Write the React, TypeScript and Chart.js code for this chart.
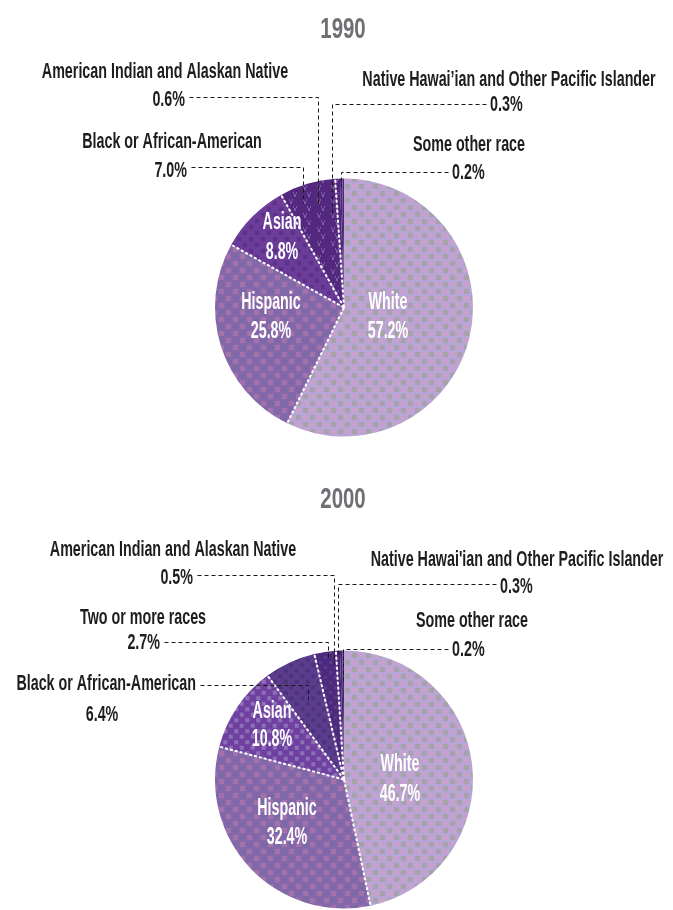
import React, { useEffect, useRef } from "react";
import { Chart, registerables } from "chart.js";

Chart.register(...registerables);

// ---------- DATA ----------
const titles = ["1990", "2000"];

const categories1990 = [
  "White",
  "Hispanic",
  "Asian",
  "Black or African-American",
  "American Indian and Alaskan Native",
  "Native Hawai\u2019ian and Other Pacific Islander",
  "Some other race",
];
const values1990 = [57.2, 25.8, 8.8, 7.0, 0.6, 0.3, 0.2];

const categories2000 = [
  "White",
  "Hispanic",
  "Asian",
  "Black or African-American",
  "Two or more races",
  "American Indian and Alaskan Native",
  "Native Hawai'ian and Other Pacific Islander",
  "Some other race",
];
const values2000 = [46.7, 32.4, 10.8, 6.4, 2.7, 0.5, 0.3, 0.2];

// ---------- LAYOUT (relative to pie centre) ----------
type Align = "left" | "right" | "center";
type OuterLabel = {
  i: number;
  name: [number, number, Align];
  value: [number, number, Align];
  path: [number, number][];
};
type InnerLabel = { i: number; x: number; y1: number; y2: number };

const outer1990: OuterLabel[] = [
  { i: 4, name: [-179, -235.5, "center"], value: [-159, -207.5, "right"], path: [[-155, -210.5], [-26, -210.5], [-26, -104.5]] },
  { i: 3, name: [-172, -165.5, "center"], value: [-157, -136.5, "right"], path: [[-153, -140.5], [-41, -140.5], [-41, -104.5]] },
  { i: 5, name: [165, -227.5, "center"], value: [146, -202.5, "left"], path: [[142, -203.5], [-12, -203.5], [-12, -92.5]] },
  { i: 6, name: [125, -162.5, "center"], value: [108, -134.5, "left"], path: [[104, -135.5], [-3, -135.5], [-3, -120.5]] },
];
const inner1990: InnerLabel[] = [
  { i: 0, x: 44, y1: -4.5, y2: 24.5 },
  { i: 1, x: -73, y1: -4.5, y2: 24.5 },
  { i: 2, x: -62, y1: -84.5, y2: -54.5 },
];

const outer2000: OuterLabel[] = [
  { i: 5, name: [-171, -229.5, "center"], value: [-151, -201.5, "right"], path: [[-147, -204.5], [-10, -204.5], [-10, -114.5]] },
  { i: 4, name: [-201, -161.5, "center"], value: [-184, -136.5, "right"], path: [[-180, -137.5], [-16, -137.5], [-16, -121.5]] },
  { i: 3, name: [-148, -95.5, "right"], value: [-242, -64.5, "center"], path: [[-144, -94.5], [-36, -94.5], [-36, -77.5]] },
  { i: 6, name: [173, -219.5, "center"], value: [156, -192.5, "left"], path: [[152, -195.5], [-6, -195.5], [-6, -124.5]] },
  { i: 7, name: [128, -158.5, "center"], value: [108, -129.5, "left"], path: [[104, -130.5], [-1, -130.5], [-1, -97.5]] },
];
const inner2000: InnerLabel[] = [
  { i: 0, x: 56, y1: -14.5, y2: 15.5 },
  { i: 1, x: -57, y1: 29.5, y2: 58.5 },
  { i: 2, x: -72, y1: -67.5, y2: -39.5 },
];

// ---------- STYLE ----------
const FONT_FAMILY = '"Liberation Sans", Arial, sans-serif';
const LABEL_FONT = `bold 22px ${FONT_FAMILY}`;
const INNER_FONT = `bold 23px ${FONT_FAMILY}`;
const TITLE_FONT = `bold 30px ${FONT_FAMILY}`;
const SCALE_X = 0.65;
const INNER_SCALE_X = 0.62;
const TITLE_SCALE_X = 0.68;
const TEXT_COLOR = "#1f1c1d";
const TITLE_COLOR = "#6f6f74";

function tile(n: number, draw: (c: CanvasRenderingContext2D) => void): CanvasPattern | string {
  const cv = document.createElement("canvas");
  cv.width = n;
  cv.height = n;
  const c = cv.getContext("2d")!;
  draw(c);
  const p = c.createPattern(cv, "repeat");
  return p || "#999";
}

function checker(base: string, a: string, b: string, n: number, sq: number) {
  return tile(n, (c) => {
    const h = n / 2;
    const m = (h - sq) / 2;
    c.fillStyle = base;
    c.fillRect(0, 0, n, n);
    c.fillStyle = a;
    c.fillRect(m, m, sq, sq);
    c.fillRect(h + m, h + m, sq, sq);
    c.fillStyle = b;
    c.fillRect(h + m, m, sq, sq);
    c.fillRect(m, h + m, sq, sq);
  });
}

function marks(base: string, mark: string, n: number) {
  return tile(n, (c) => {
    c.fillStyle = base;
    c.fillRect(0, 0, n, n);
    c.fillStyle = mark;
    const h = n / 2;
    c.fillRect(h - 2, 2, 1, 2);
    c.fillRect(h + 1, 2, 1, 2);
    c.fillRect(h - 1, 4, 2, 3);
    c.fillRect(1, h + 2, 1, 2);
    c.fillRect(4, h + 2, 1, 2);
    c.fillRect(2, h + 4, 2, 3);
  });
}

function fills1990() {
  return [
    checker("#b5a6d7", "#c9a0cc", "#a8a2a8", 14, 5),
    checker("#8568aa", "#a372ab", "#7d69a7", 14, 5),
    checker("#6b3c98", "#5b318a", "#6b3c98", 12, 4),
    marks("#53287e", "#7a5ca3", 14),
    marks("#4f267b", "#76579f", 14),
    marks("#4f267b", "#76579f", 14),
    marks("#4f267b", "#76579f", 14),
  ];
}

function fills2000() {
  return [
    checker("#b5a6d7", "#c9a0cc", "#a8a2a8", 14, 5),
    checker("#8568aa", "#a372ab", "#7d69a7", 14, 5),
    checker("#6f40a0", "#8c70b6", "#6f40a0", 11, 4),
    checker("#5d3c8e", "#4a3579", "#5d3c8e", 11, 4),
    checker("#4d2a7d", "#5c3a8a", "#4d2a7d", 10, 3),
    "#4a2679",
    "#4a2679",
    "#4a2679",
  ];
}

function drawText(
  ctx: CanvasRenderingContext2D,
  text: string,
  x: number,
  y: number,
  align: Align,
  font: string,
  color: string,
  sx: number
) {
  ctx.save();
  ctx.translate(x, y);
  ctx.scale(sx, 1);
  ctx.font = font;
  ctx.fillStyle = color;
  ctx.textAlign = align;
  ctx.textBaseline = "middle";
  ctx.fillText(text, 0, 0);
  ctx.restore();
}

const fmt = (v: number) => v.toFixed(1) + "%";

type PieProps = {
  title: string;
  categories: string[];
  values: number[];
  makeFills: () => (CanvasPattern | string)[];
  outer: OuterLabel[];
  inner: InnerLabel[];
  height: number;
  padTop: number;
  padBottom: number;
  titleDy: number;
};

function PieBlock(props: PieProps) {
  const ref = useRef<HTMLCanvasElement | null>(null);
  useEffect(() => {
    const canvas = ref.current;
    if (!canvas) return;
    const { title, categories, values, outer, inner } = props;

    const overlay = {
      id: "overlay",
      afterDatasetsDraw(chart: any) {
        const ctx: CanvasRenderingContext2D = chart.ctx;
        const arcs = chart.getDatasetMeta(0).data as any[];
        const cx = arcs[0].x;
        const cy = arcs[0].y;
        const r = arcs[0].outerRadius;

        // white dashed separators between slices
        ctx.save();
        ctx.strokeStyle = "#ffffff";
        ctx.lineWidth = 2;
        ctx.setLineDash([3, 2]);
        arcs.forEach((a, k) => {
          if (k === arcs.length - 1 || values[k] < 1) return;
          const ang = a.endAngle;
          ctx.beginPath();
          ctx.moveTo(cx, cy);
          ctx.lineTo(cx + r * Math.cos(ang), cy + r * Math.sin(ang));
          ctx.stroke();
        });
        ctx.restore();

        // leader lines
        ctx.save();
        ctx.strokeStyle = "#1a1a1a";
        ctx.lineWidth = 1;
        ctx.setLineDash([4, 3]);
        outer.forEach((o) => {
          ctx.beginPath();
          o.path.forEach(([dx, dy], j) => {
            const x = Math.round(cx + dx) + 0.5;
            const y = Math.round(cy + dy) + 0.5;
            if (j === 0) ctx.moveTo(x, y);
            else ctx.lineTo(x, y);
          });
          ctx.stroke();
        });
        ctx.restore();

        // outer labels
        outer.forEach((o) => {
          drawText(ctx, categories[o.i], cx + o.name[0], cy + o.name[1], o.name[2], LABEL_FONT, TEXT_COLOR, SCALE_X);
          drawText(ctx, fmt(values[o.i]), cx + o.value[0], cy + o.value[1], o.value[2], LABEL_FONT, TEXT_COLOR, SCALE_X);
        });

        // inner labels
        inner.forEach((l) => {
          drawText(ctx, categories[l.i], cx + l.x, cy + l.y1, "center", INNER_FONT, "#ffffff", INNER_SCALE_X);
          drawText(ctx, fmt(values[l.i]), cx + l.x, cy + l.y2, "center", INNER_FONT, "#ffffff", INNER_SCALE_X);
        });

        // title
        drawText(ctx, title, cx - 1, cy + props.titleDy, "center", TITLE_FONT, TITLE_COLOR, TITLE_SCALE_X);
      },
    };

    const chart = new Chart(canvas, {
      type: "pie",
      data: {
        labels: categories,
        datasets: [
          {
            data: values,
            backgroundColor: props.makeFills() as any,
            borderWidth: 0,
            hoverOffset: 0,
          },
        ],
      },
      options: {
        responsive: false,
        animation: false,
        events: [],
        layout: { padding: { left: 207, right: 192, top: props.padTop, bottom: props.padBottom } },
        plugins: {
          legend: { display: false },
          tooltip: { enabled: false },
          title: { display: false },
        },
      },
      plugins: [overlay as any],
    });
    return () => chart.destroy();
  }, []);
  return <canvas ref={ref} width={657} height={props.height} style={{ display: "block" }} />;
}

export default function App() {
  return (
    <div style={{ position: "fixed", top: 8, left: 8, width: 657, height: 902, overflow: "visible" }}>
      <PieBlock
        title={titles[0]}
        categories={categories1990}
        values={values1990}
        makeFills={fills1990}
        outer={outer1990}
        inner={inner1990}
        height={462}
        padTop={170.5}
        padBottom={33.5}
        titleDy={-277.5}
      />
      <PieBlock
        title={titles[1]}
        categories={categories2000}
        values={values2000}
        makeFills={fills2000}
        outer={outer2000}
        inner={inner2000}
        height={440}
        padTop={180.5}
        padBottom={1.5}
        titleDy={-279.5}
      />
    </div>
  );
}
